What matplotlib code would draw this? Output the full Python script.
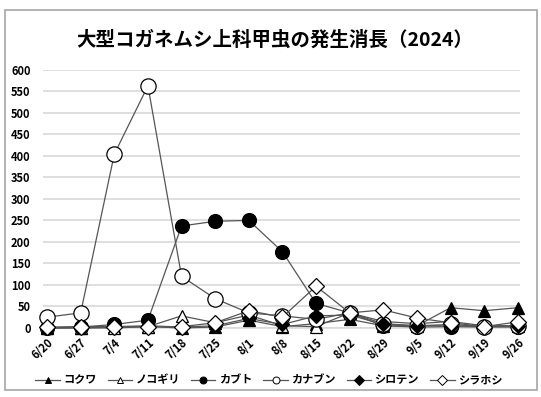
import matplotlib.pyplot as plt
from matplotlib.lines import Line2D
from matplotlib.patches import Rectangle

plt.rcParams['font.family'] = ['Noto Sans CJK JP', 'DejaVu Sans']
plt.rcParams['font.weight'] = 'bold'

dates = ['6/20', '6/27', '7/4', '7/11', '7/18', '7/25', '8/1', '8/8',
         '8/15', '8/22', '8/29', '9/5', '9/12', '9/19', '9/26']

kokuwa = [0, 0, 2, 3, 0, 2, 18, 3, 10, 20, 5, 5, 47, 40, 47]
nokogiri = [0, 0, 0, 3, 28, 12, 30, 5, 3, 35, 15, 10, 15, 5, 5]
kabuto = [0, 2, 8, 18, 237, 248, 250, 177, 57, 35, 5, 2, 3, 2, 2]
kanabun = [25, 35, 404, 563, 120, 68, 35, 28, 20, 35, 10, 5, 8, 3, 5]
shiroten = [0, 2, 3, 5, 2, 5, 22, 8, 28, 30, 8, 5, 5, 3, 5]
shirahoshi = [2, 3, 3, 3, 3, 12, 40, 25, 97, 35, 42, 23, 12, 3, 14]

# name, values, marker, face colour, marker size
series = [
    ('コクワ', kokuwa, '^', 'black', 8),
    ('ノコギリ', nokogiri, '^', 'white', 9),
    ('カブト', kabuto, 'o', 'black', 10),
    ('カナブン', kanabun, 'o', 'white', 11),
    ('シロテン', shiroten, 'D', 'black', 7),
    ('シラホシ', shirahoshi, 'D', 'white', 8),
]

fig = plt.figure(figsize=(5.41, 3.97), dpi=100)
ax = fig.add_axes([0.0795, 0.174, 0.882, 0.650])

x = list(range(len(dates)))
handles = []
for name, vals, mk, fc, ms in series:
    ax.plot(x, vals, color='#555555', lw=0.9, marker=mk, markersize=ms,
            markerfacecolor=fc, markeredgecolor='black', markeredgewidth=0.9,
            clip_on=False, zorder=3)
    handles.append(Line2D([0], [0], color='#555555', lw=0.9, marker=mk,
                          markersize=5, markerfacecolor=fc,
                          markeredgecolor='black', markeredgewidth=0.7,
                          label=name))

ax.set_xlim(-0.12, 14.07)
ax.set_ylim(0, 600)
ax.set_yticks(range(0, 601, 50))
ax.set_xticks(x)
ax.set_xticklabels(dates, rotation=42, ha='right', rotation_mode='anchor',
                   fontsize=8)
ax.tick_params(axis='y', labelsize=8, length=0, pad=9)
ax.tick_params(axis='x', length=0, pad=6)
ax.grid(axis='y', color='#d9d9d9', lw=1.2)
ax.set_axisbelow(True)
for s in ['top', 'right', 'left']:
    ax.spines[s].set_visible(False)
ax.spines['bottom'].set_color('#d9d9d9')
ax.spines['bottom'].set_linewidth(1.2)

fig.text(0.507, 0.900, '大型コガネムシ上科甲虫の発生消長（2024）',
         ha='center', va='center', fontsize=14, fontweight='bold')

fig.legend(handles=handles, loc='center', bbox_to_anchor=(0.497, 0.043),
           ncol=6, frameon=False, fontsize=8, handlelength=2.2,
           handletextpad=0.3, columnspacing=1.0)

# outer chart border
fig.patches.append(Rectangle((0.010, 0.018), 0.983, 0.957,
                             transform=fig.transFigure, fill=False,
                             edgecolor='#a6a6a6', lw=1.2))

fig.savefig('out.png', dpi=100)
